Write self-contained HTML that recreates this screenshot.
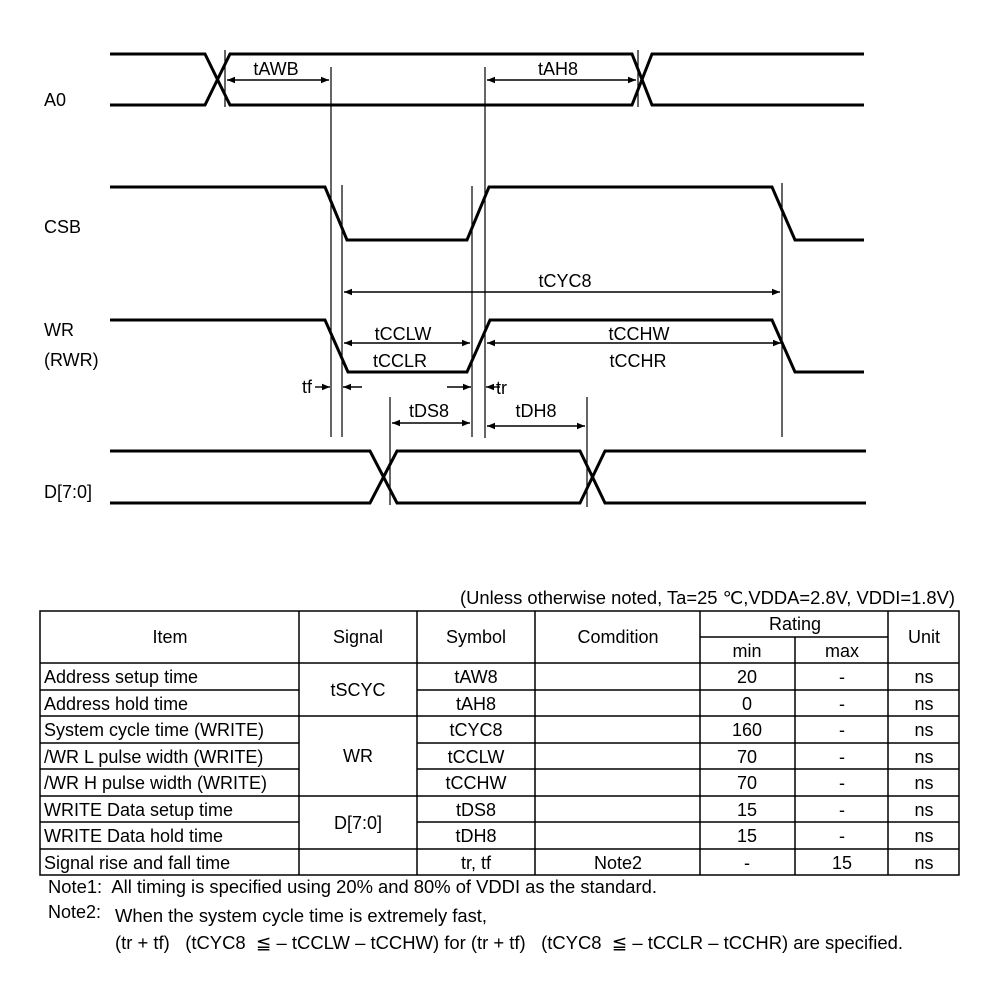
<!DOCTYPE html>
<html><head><meta charset="utf-8"><style>
html,body{margin:0;padding:0;background:#fff}
svg{display:block}
text{font-family:"Liberation Sans",sans-serif;font-size:18px;fill:#000;white-space:pre}
</style></head><body>
<svg width="999" height="989" viewBox="0 0 999 989" xmlns="http://www.w3.org/2000/svg" xml:space="preserve">
<defs>
<marker id="a" viewBox="0 0 10 10" refX="10" refY="5" markerWidth="8" markerHeight="8" orient="auto-start-reverse" markerUnits="userSpaceOnUse"><path d="M0,1 L10,5 L0,9 z" fill="#000"/></marker>
</defs>
<g fill="none" stroke="#000" stroke-width="3" stroke-linejoin="miter">
<polyline points="110,54 205,54 230,105 632,105 652,54 864,54"/>
<polyline points="110,105 205,105 230,54 632,54 652,105 864,105"/>
<polyline points="110,187 325,187 347,240 467,240 489,187 772,187 795,240 864,240"/>
<polyline points="110,320 325,320 348,372 467,372 490,320 772,320 795,372 864,372"/>
<polyline points="110,451 370,451 397,503 580,503 605,451 866,451"/>
<polyline points="110,503 370,503 397,451 580,451 605,503 866,503"/>
</g>
<g stroke="#000" stroke-width="1.2">
<line x1="225" y1="50" x2="225" y2="107"/>
<line x1="638" y1="50" x2="638" y2="107"/>
<line x1="331" y1="67" x2="331" y2="437"/>
<line x1="485" y1="67" x2="485" y2="438"/>
<line x1="342" y1="185" x2="342" y2="437"/>
<line x1="472" y1="186" x2="472" y2="437"/>
<line x1="782" y1="183" x2="782" y2="437"/>
<line x1="390" y1="397" x2="390" y2="505"/>
<line x1="587" y1="397" x2="587" y2="507"/>
</g>
<g stroke="#000" stroke-width="1.4" marker-end="url(#a)" marker-start="url(#a)">
<line x1="227" y1="80" x2="329" y2="80"/>
<line x1="487" y1="80" x2="636" y2="80"/>
<line x1="344" y1="292" x2="780" y2="292"/>
<line x1="344" y1="343" x2="470" y2="343"/>
<line x1="487" y1="343" x2="781" y2="343"/>
<line x1="392" y1="423" x2="470" y2="423"/>
<line x1="487" y1="426" x2="585" y2="426"/>
</g>
<g stroke="#000" stroke-width="1.4" marker-end="url(#a)">
<line x1="315" y1="387" x2="330" y2="387"/>
<line x1="362" y1="387" x2="343" y2="387"/>
<line x1="447" y1="387" x2="471" y2="387"/>
<line x1="500" y1="387" x2="486" y2="387"/>
</g>
<text x="44" y="106">A0</text>
<text x="44" y="233">CSB</text>
<text x="44" y="336">WR</text>
<text x="44" y="366">(RWR)</text>
<text x="44" y="498">D[7:0]</text>
<text x="276" y="75" text-anchor="middle">tAWB</text>
<text x="558" y="75" text-anchor="middle">tAH8</text>
<text x="565" y="287" text-anchor="middle">tCYC8</text>
<text x="403" y="340" text-anchor="middle">tCCLW</text>
<text x="400" y="367" text-anchor="middle">tCCLR</text>
<text x="639" y="340" text-anchor="middle">tCCHW</text>
<text x="638" y="367" text-anchor="middle">tCCHR</text>
<text x="302" y="393">tf</text>
<text x="496" y="394">tr</text>
<text x="429" y="417" text-anchor="middle">tDS8</text>
<text x="536" y="417" text-anchor="middle">tDH8</text>

<text x="460" y="604" textLength="495" lengthAdjust="spacingAndGlyphs">(Unless otherwise noted, Ta=25 ℃,VDDA=2.8V, VDDI=1.8V)</text>
<g stroke="#000" stroke-width="1.5" fill="none">
<rect x="40" y="611" width="919" height="264"/>
<line x1="299" y1="611" x2="299" y2="875"/>
<line x1="417" y1="611" x2="417" y2="875"/>
<line x1="535" y1="611" x2="535" y2="875"/>
<line x1="700" y1="611" x2="700" y2="875"/>
<line x1="795" y1="637" x2="795" y2="875"/>
<line x1="888" y1="611" x2="888" y2="875"/>
<line x1="700" y1="637" x2="888" y2="637"/>
<line x1="40" y1="663" x2="959" y2="663"/>
<line x1="40" y1="690" x2="299" y2="690"/><line x1="417" y1="690" x2="959" y2="690"/>
<line x1="40" y1="716" x2="959" y2="716"/>
<line x1="40" y1="743" x2="299" y2="743"/><line x1="417" y1="743" x2="959" y2="743"/>
<line x1="40" y1="769" x2="299" y2="769"/><line x1="417" y1="769" x2="959" y2="769"/>
<line x1="40" y1="796" x2="959" y2="796"/>
<line x1="40" y1="822" x2="299" y2="822"/><line x1="417" y1="822" x2="959" y2="822"/>
<line x1="40" y1="849" x2="959" y2="849"/>
</g>
<g text-anchor="middle">
<text x="170" y="643">Item</text>
<text x="358" y="643">Signal</text>
<text x="476" y="643">Symbol</text>
<text x="618" y="643">Comdition</text>
<text x="795" y="630">Rating</text>
<text x="747" y="657">min</text>
<text x="842" y="657">max</text>
<text x="924" y="643">Unit</text>
<text x="358" y="696">tSCYC</text>
<text x="358" y="762">WR</text>
<text x="358" y="829">D[7:0]</text>
<text x="476" y="683">tAW8</text>
<text x="476" y="710">tAH8</text>
<text x="476" y="736">tCYC8</text>
<text x="476" y="763">tCCLW</text>
<text x="476" y="789">tCCHW</text>
<text x="476" y="816">tDS8</text>
<text x="476" y="842">tDH8</text>
<text x="476" y="869">tr, tf</text>
<text x="618" y="869">Note2</text>
<text x="747" y="683">20</text><text x="747" y="710">0</text><text x="747" y="736">160</text><text x="747" y="763">70</text><text x="747" y="789">70</text><text x="747" y="816">15</text><text x="747" y="842">15</text><text x="747" y="869">-</text>
<text x="842" y="683">-</text><text x="842" y="710">-</text><text x="842" y="736">-</text><text x="842" y="763">-</text><text x="842" y="789">-</text><text x="842" y="816">-</text><text x="842" y="842">-</text><text x="842" y="869">15</text>
<text x="924" y="683">ns</text><text x="924" y="710">ns</text><text x="924" y="736">ns</text><text x="924" y="763">ns</text><text x="924" y="789">ns</text><text x="924" y="816">ns</text><text x="924" y="842">ns</text><text x="924" y="869">ns</text>
</g>
<text x="44" y="683">Address setup time</text>
<text x="44" y="710">Address hold time</text>
<text x="44" y="736">System cycle time (WRITE)</text>
<text x="44" y="763">/WR L pulse width (WRITE)</text>
<text x="44" y="789">/WR H pulse width (WRITE)</text>
<text x="44" y="816">WRITE Data setup time</text>
<text x="44" y="842">WRITE Data hold time</text>
<text x="44" y="869">Signal rise and fall time</text>
<text x="48" y="893" textLength="609" lengthAdjust="spacingAndGlyphs">Note1:  All timing is specified using 20% and 80% of VDDI as the standard.</text>
<text x="48" y="918">Note2:</text>
<text x="115" y="922" textLength="372" lengthAdjust="spacingAndGlyphs">When the system cycle time is extremely fast,</text>
<text x="115" y="949" textLength="788" lengthAdjust="spacingAndGlyphs">(tr + tf)   (tCYC8  ≦ – tCCLW – tCCHW) for (tr + tf)   (tCYC8  ≦ – tCCLR – tCCHR) are specified.</text>
</svg>
</body></html>
